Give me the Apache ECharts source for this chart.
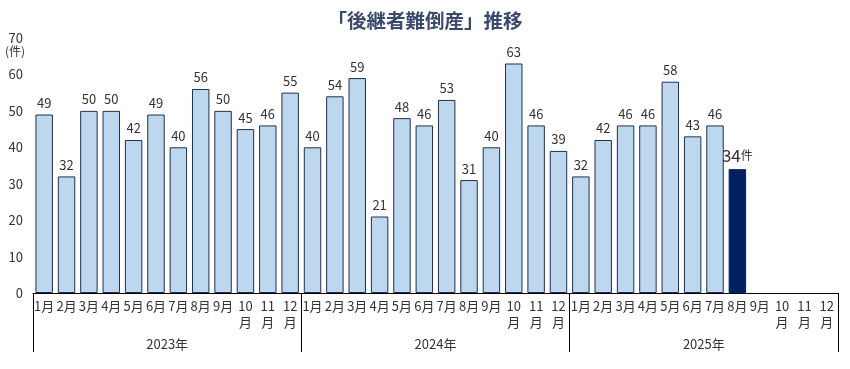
<!DOCTYPE html>
<html><head><meta charset="utf-8">
<script src="https://cdn.jsdelivr.net/npm/echarts@6/dist/echarts.min.js"></script>
<style>html,body{margin:0;padding:0;background:#fff}#c{width:850px;height:369px}</style>
</head><body><div id="c"></div>
<script>
const months = ['1月','2月','3月','4月','5月','6月','7月','8月','9月','10\n月','11\n月','12\n月'];
const years = ['2023年','2024年','2025年'];
const values2023 = [49,32,50,50,42,49,40,56,50,45,46,55];
const values2024 = [40,54,59,21,48,46,53,31,40,63,46,39];
const values2025 = [32,42,46,46,58,43,46,34,null,null,null,null];
const yTicks = [0,10,20,30,40,50,60,70];
const highlightIndex = 31;

const categories = [].concat(months, months, months);
const allValues = [].concat(values2023, values2024, values2025);
const FONT = '"Noto Sans CJK JP", sans-serif';

const data = allValues.map((v, i) => {
  if (i === highlightIndex) {
    return { value: v, itemStyle: { color: '#002060', borderColor: '#002060' },
      label: { formatter: '{a|' + v + '}{b|件}', rich: { a: { fontSize: 17, color: '#333', fontFamily: FONT }, b: { fontSize: 12, color: '#333', fontFamily: FONT } } } };
  }
  return v;
});

const chart = echarts.init(document.getElementById('c'));
chart.setOption({
  animation: false,
  title: { text: '「後継者難倒産」推移', left: 'center', top: 6,
    textStyle: { fontSize: 19.5, fontWeight: 'bold', color: '#3b4a6b', fontFamily: FONT } },
  grid: { left: 33, right: 12, top: 38, bottom: 76 },
  xAxis: [{
    type: 'category', data: categories, position: 'bottom',
    axisLine: { lineStyle: { color: '#000', width: 1 } },
    axisTick: { show: false },
    axisLabel: { interval: 0, color: '#333', fontSize: 13, fontFamily: FONT, margin: 5, lineHeight: 16, verticalAlign: 'top' }
  }, {
    type: 'category', data: years, position: 'bottom',
    axisLine: { show: false },
    axisTick: { show: true, length: 59, interval: 0, lineStyle: { color: '#000', width: 1 } },
    axisLabel: { color: '#333', fontSize: 13, fontFamily: FONT, margin: 45 }
  }],
  yAxis: {
    type: 'value', min: 0, max: 70, interval: 10,
    axisLine: { show: false }, axisTick: { show: false }, splitLine: { show: false },
    axisLabel: { color: '#333', fontSize: 13, fontFamily: FONT, margin: 10,
      formatter: v => yTicks.includes(v) ? String(v) : '' }
  },
  graphic: [{ type: 'text', left: 5, top: 45, style: { text: '(件)', fontSize: 12, fill: '#333', fontFamily: FONT } }],
  series: [{
    type: 'bar', xAxisIndex: 0, data: data, barCategoryGap: '22%',
    itemStyle: { color: '#bdd7ee', borderColor: '#1f2f4f', borderWidth: 1 },
    label: { show: true, position: 'top', color: '#333', fontSize: 13, fontFamily: FONT, distance: 5 }
  }]
});
</script></body></html>
